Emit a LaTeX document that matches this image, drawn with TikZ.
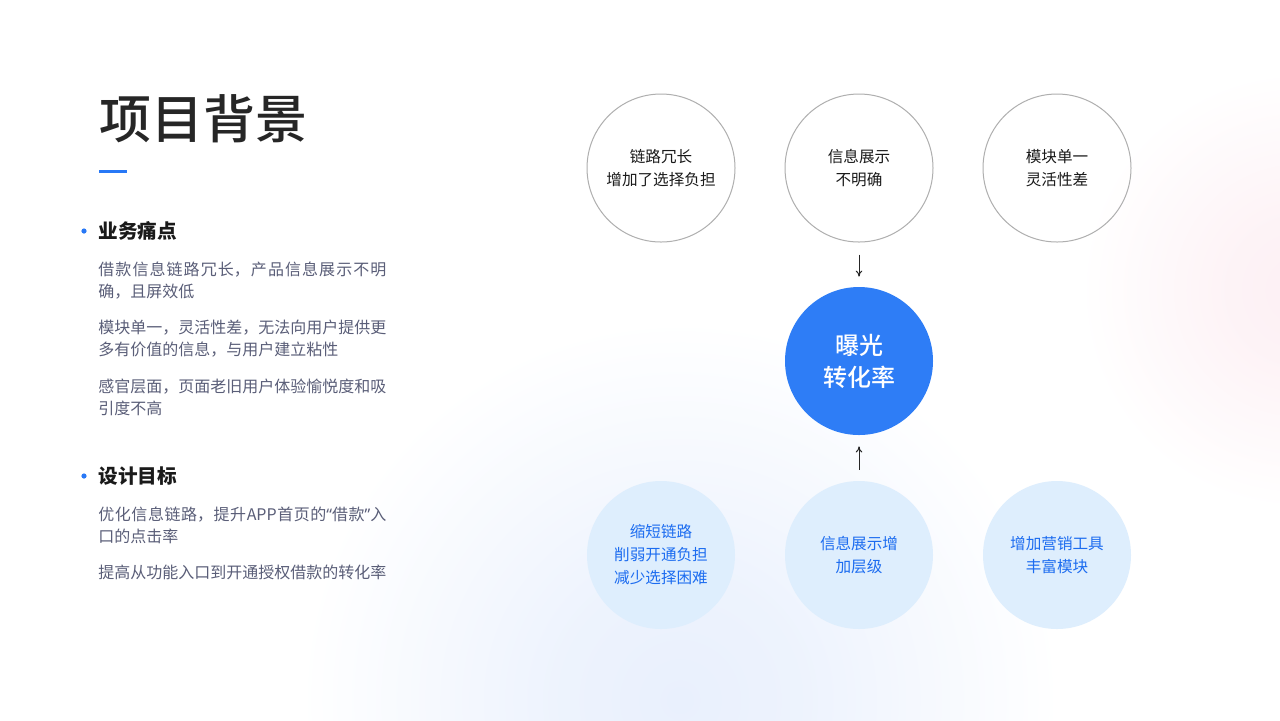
\documentclass[tikz,border=0pt]{standalone}
\usepackage{fontspec}
\setmainfont{Noto Sans CJK SC}
\newfontfamily\latinquote{Noto Sans}
\newfontfamily\mediumfont{Noto Sans CJK SC Medium}
\XeTeXlinebreaklocale "zh"
\XeTeXlinebreakskip = 0pt plus 2pt
\usetikzlibrary{arrows.meta}

\definecolor{titlegray}{RGB}{38,38,38}
\definecolor{headgray}{RGB}{26,26,26}
\definecolor{bodygray}{RGB}{90,94,120}
\definecolor{accentblue}{RGB}{40,120,246}
\definecolor{mainblue}{RGB}{46,125,246}
\definecolor{paleblue}{RGB}{222,238,253}
\definecolor{planblue}{RGB}{28,108,240}
\definecolor{ringgray}{RGB}{175,175,175}
\definecolor{glowblue}{RGB}{233,240,253}
\definecolor{glowpink}{RGB}{253,240,244}

\pgfdeclareradialshading{blue glow}{\pgfpoint{0bp}{0bp}}{color(0bp)=(glowblue); color(8bp)=(glowblue!80!white); color(25bp)=(white); color(50bp)=(white)}
\pgfdeclareradialshading{pink glow}{\pgfpoint{0bp}{0bp}}{color(0bp)=(glowpink); color(8bp)=(glowpink!80!white); color(25bp)=(white); color(50bp)=(white)}

\tikzset {
  title style/.style = {
    anchor=west, inner sep=0pt, text=titlegray,
    font=\fontsize{26pt}{26pt}\selectfont\mediumfont
  },
  head style/.style = {
    anchor=west, inner sep=0pt, text=headgray,
    font=\fontsize{9.8pt}{12pt}\selectfont\bfseries
  },
  body style/.style = {
    anchor=west, inner sep=0pt, text width=144pt, align=justify, text=bodygray,
    font=\fontsize{8pt}{11pt}\selectfont
  },
  ring style/.style = {
    circle, draw=ringgray, line width=0.5pt, minimum size=74pt,
    inner sep=0pt, align=center, text=headgray,
    font=\fontsize{7.8pt}{11.5pt}\selectfont
  },
  core style/.style = {
    circle, fill=mainblue, minimum size=74pt, inner sep=0pt,
    align=center, text=white, font=\fontsize{12pt}{16pt}\selectfont\mediumfont
  },
  goal style/.style = {
    circle, fill=paleblue, minimum size=74pt, inner sep=0pt,
    align=center, text=planblue, font=\fontsize{7.8pt}{11.5pt}\selectfont
  },
  flow arrow/.style = {
    -{To[length=3pt,width=3.2pt]}, line width=0.5pt, black!85
  }
}

\begin{document}
\begin{tikzpicture}[x=0.5pt, y=-0.5pt]

% --- Canvas ---
\useasboundingbox (0,0) rectangle (1280,720);
\clip (0,0) rectangle (1280,720);
\fill[white] (0,0) rectangle (1280,720);
\shade[shading=blue glow] (680,700) circle (380);
\shade[shading=pink glow] (1300,290) circle (220);

% --- Title ---
\node[title style] (title) at (99,119) {项目背景};
\draw[accentblue, line width=1.5pt] (99,171) -- (127,171);

% --- Pain points ---
\fill[accentblue] (84,231) circle (1.3pt);
\node[head style] (pain) at (98,231) {业务痛点};
\node[body style] (pain1) at (98,281) {借款信息链路冗长，产品信息展示不明\linebreak 确，且屏效低};
\node[body style] (pain2) at (98,339) {模块单一，灵活性差，无法向用户提供更\linebreak 多有价值的信息，与用户建立粘性};
\node[body style] (pain3) at (98,397) {感官层面，页面老旧用户体验愉悦度和吸\linebreak 引度不高};

% --- Design goals ---
\fill[accentblue] (84,476) circle (1.3pt);
\node[head style] (goal) at (98,476) {设计目标};
\node[body style] (goal1) at (98,525) {优化信息链路，提升APP首页的{\latinquote“}借款{\latinquote”}入\linebreak 口的点击率};
\node[body style] (goal2) at (98,572) {提高从功能入口到开通授权借款的转化率};

% --- Problems (top row) ---
\node[ring style] (p1) at (661,168) {链路冗长\\增加了选择负担};
\node[ring style] (p2) at (859,168) {信息展示\\不明确};
\node[ring style] (p3) at (1057,168) {模块单一\\灵活性差};

% --- Core metric ---
\node[core style] (core) at (859,361) {曝光\\转化率};

% --- Measures (bottom row) ---
\node[goal style] (g1) at (661,555) {缩短链路\\削弱开通负担\\减少选择困难};
\node[goal style] (g2) at (859,555) {信息展示增\\加层级};
\node[goal style] (g3) at (1057,555) {增加营销工具\\丰富模块};

% --- Arrows ---
\draw[flow arrow, shorten <=6pt, shorten >=5pt] (p2) -- (core);
\draw[flow arrow, shorten <=5.5pt, shorten >=5.5pt] (g2) -- (core);

\end{tikzpicture}
\end{document}
